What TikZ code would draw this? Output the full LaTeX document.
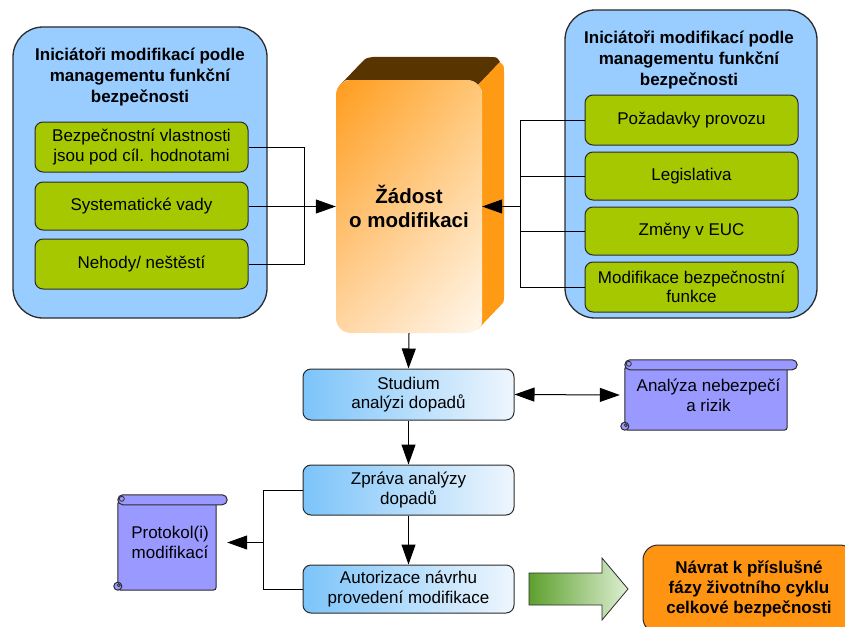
\documentclass[tikz,border=0pt]{standalone}
\usepackage{fontspec}
\setmainfont{Liberation Sans}
\usetikzlibrary{arrows.meta,calc,shadings}

\definecolor{bluebg}{HTML}{99CCFF}
\definecolor{lime}{HTML}{A6C800}
\definecolor{edge}{HTML}{2B2B2B}
\definecolor{scrollfill}{HTML}{9999FF}
\definecolor{orng}{HTML}{FF9413}
\definecolor{sideor}{HTML}{FF9A15}
\definecolor{topbrown}{HTML}{583400}
\definecolor{stepL}{HTML}{7CC4FA}
\definecolor{stepR}{HTML}{EEF6FD}
\definecolor{arrowdark}{HTML}{5EA02E}
\definecolor{arrowlight}{HTML}{DDEFD2}
\definecolor{frontA}{HTML}{FF9C1C}
\definecolor{frontB}{HTML}{FFC676}
\definecolor{frontC}{HTML}{FFD6A4}
\definecolor{frontD}{HTML}{FFF7EC}

\pgfdeclarelayer{bg}
\pgfsetlayers{bg,main}

\pgfdeclarehorizontalshading{topface}{100bp}{color(0bp)=(sideor!70!topbrown); color(20bp)=(topbrown); color(78bp)=(topbrown); color(100bp)=(sideor)}

\tikzset{
  group/.style={draw=edge, line width=1.3pt, fill=bluebg, rounded corners=30pt},
  grouptitle/.style={align=center, font=\fontsize{17}{21}\selectfont\bfseries},
  cause/.style={draw=edge, line width=1pt, fill=lime, rounded corners=8pt,
    minimum width=213pt, align=center, inner sep=2pt,
    font=\fontsize{17}{19.5}\selectfont},
  stepbox/.style={draw=edge, line width=1pt, left color=stepL, right color=stepR,
    rounded corners=8pt, minimum width=211pt, align=center, inner sep=2pt,
    font=\fontsize{17}{19.5}\selectfont},
  scrolltext/.style={align=center, inner sep=0pt, font=\fontsize{17}{20}\selectfont},
  scrollline/.style={draw=edge, line width=1pt, fill=scrollfill},
  link/.style={draw=black, line width=1pt},
  tip/.style={-{Triangle[length=20pt,width=14pt]}},
  tips/.style={{Triangle[length=20pt,width=14pt]}-{Triangle[length=20pt,width=14pt]}},
}

% rolled sheet drawn around a named node; #2 = inset of the body from the roll's right end
\newcommand\scrollshape[2]{%
  \path (#1.north west) coordinate (sTL) (#1.south east) coordinate (sBR);
  \filldraw[scrollline, rounded corners=3pt] ($(sTL)+(5,6)$) -- ($(sTL|-sBR)+(5,0)$)
    -- ($(sBR)+(-#2,0)$) -- ($(sBR|-sTL)+(-#2,6)$) -- cycle;
  \filldraw[scrollline] ($(sTL|-sBR)+(5,-4)$) circle (4pt);
  \draw[draw=edge, line width=0.8pt] ($(sTL|-sBR)+(6,-5)$) circle (1.5pt);
  \filldraw[scrollline, rounded corners=5pt] ($(sTL)+(5,0)$) rectangle ($(sBR|-sTL)+(0,10)$);
  \draw[draw=edge, line width=0.8pt] ($(sTL)+(9,4)$) circle (2.5pt);
}

\begin{document}
\begin{tikzpicture}[x=1pt, y=-1pt]
\useasboundingbox (0,0) rectangle (845,626);
\clip (0,0) rectangle (845,626);

% left group of modification initiators
\node[group, minimum width=254pt, minimum height=291pt] (lgrp) at (140,172.5) {};
\node[grouptitle] (ltitle) at (140,77) {Iniciátoři modifikací podle\\managementu funkční\\bezpečnosti};
\node[cause, minimum height=50pt] (l1) at (141.5,147) {Bezpečnostní vlastnosti\\jsou pod cíl. hodnotami};
\node[cause, minimum height=48pt] (l2) at (141.5,206) {Systematické vady};
\node[cause, minimum height=50pt] (l3) at (141.5,264) {Nehody/ neštěstí};

% right group of modification initiators
\node[group, minimum width=252pt, minimum height=308pt] (rgrp) at (691,164) {};
\node[grouptitle] (rtitle) at (689,60) {Iniciátoři modifikací podle\\managementu funkční\\bezpečnosti};
\node[cause, minimum height=50pt] (r1) at (691.5,120) {Požadavky provozu};
\node[cause, minimum height=48pt] (r2) at (691.5,176) {Legislativa};
\node[cause, minimum height=48pt] (r3) at (691.5,231) {Změny v EUC};
\node[cause, minimum height=50pt] (r4) at (691.5,287) {Modifikace bezpečnostní\\funkce};

% extruded block: top face and right side face
\shade[shading=topface] (340,85) -- (362,62) .. controls (366,58) .. (373,57) -- (489,57)
  .. controls (497,57) .. (500,62) -- (478,85) .. controls (474,81) .. (467,80) -- (351,80)
  .. controls (345,80) .. (340,85) -- cycle;
\fill[sideor] (478,85) -- (500,62) .. controls (504,66) .. (504,72) -- (504,295)
  .. controls (504,302) .. (500,306) -- (478,329) .. controls (482,325) .. (482,318)
  -- (482,95) .. controls (482,90) .. (478,85) -- cycle;
% front face
\node[rounded corners=15pt, minimum width=146pt, minimum height=253pt,
  upper left=frontA, upper right=frontB, lower left=frontC, lower right=frontD,
  align=center, font=\fontsize{20.5}{24.5}\selectfont\bfseries] (zad) at (409,206.5)
  {Žádost\\o modifikaci};

% joins of the initiator lines
\coordinate (lj) at ($(zad.west)+(-31,0)$);
\coordinate (rj) at ($(zad.east)+(38,0)$);
\draw[link] (l1.east) -| (lj);
\draw[link] (l2.east) -| (lj);
\draw[link] (l3.east) -| (lj);
\draw[link, tip] (lj) -- (zad.west);
\draw[link] (r1.west) -| (rj);
\draw[link] (r2.west) -| (rj);
\draw[link] (r3.west) -| (rj);
\draw[link] (r4.west) -| (rj);
\draw[link, tip] (rj) -- (zad.east);

% analysis chain
\node[stepbox, minimum height=51pt] (stud) at (408.5,394.5) {Studium\\analýzi dopadů};
\node[stepbox, minimum height=50pt] (zpr) at (408.5,490) {Zpráva analýzy\\dopadů};
\node[stepbox, minimum height=48pt] (aut) at (408.5,589) {Autorizace návrhu\\provedení modifikace};

\node[scrolltext, minimum width=177pt, minimum height=70pt] (anal) at (708.5,395) {Analýza nebezpečí\\a rizik};
\node[scrolltext, minimum width=114pt, minimum height=95pt] (prot) at (170,542.5) {Protokol(i)\\modifikací};
\begin{pgfonlayer}{bg}
  \scrollshape{anal}{10}
  \scrollshape{prot}{11}
\end{pgfonlayer}

\draw[link, tip] (zad.south) -- (stud.north);
\draw[link, tip] (stud.south) -- (zpr.north);
\draw[link, tip] (zpr.south) -- (aut.north);
\draw[link, tips] (stud.east) -- (anal.west);

\coordinate (pj) at ($(zpr.west)+(-39,0)$);
\draw[link] (zpr.west) -- (pj) -- (pj |- aut.west) -- (aut.west);
\draw[link, tip] (pj |- prot.east) -- (prot.east);

% return to the lifecycle
\shade[draw=edge, line width=0.8pt, left color=arrowdark, right color=arrowlight]
  (529,573) -- (602,573) -- (602,558) -- (628,589) -- (602,620) -- (602,605) -- (529,605) -- cycle;
\node[draw=edge, line width=1pt, fill=orng, rounded corners=15pt, minimum width=212pt,
  minimum height=88pt, align=center, font=\fontsize{17}{20}\selectfont\bfseries] (ret)
  at (749,589) {Návrat k příslušné\\fázy životního cyklu\\celkové bezpečnosti};
\end{tikzpicture}
\end{document}
